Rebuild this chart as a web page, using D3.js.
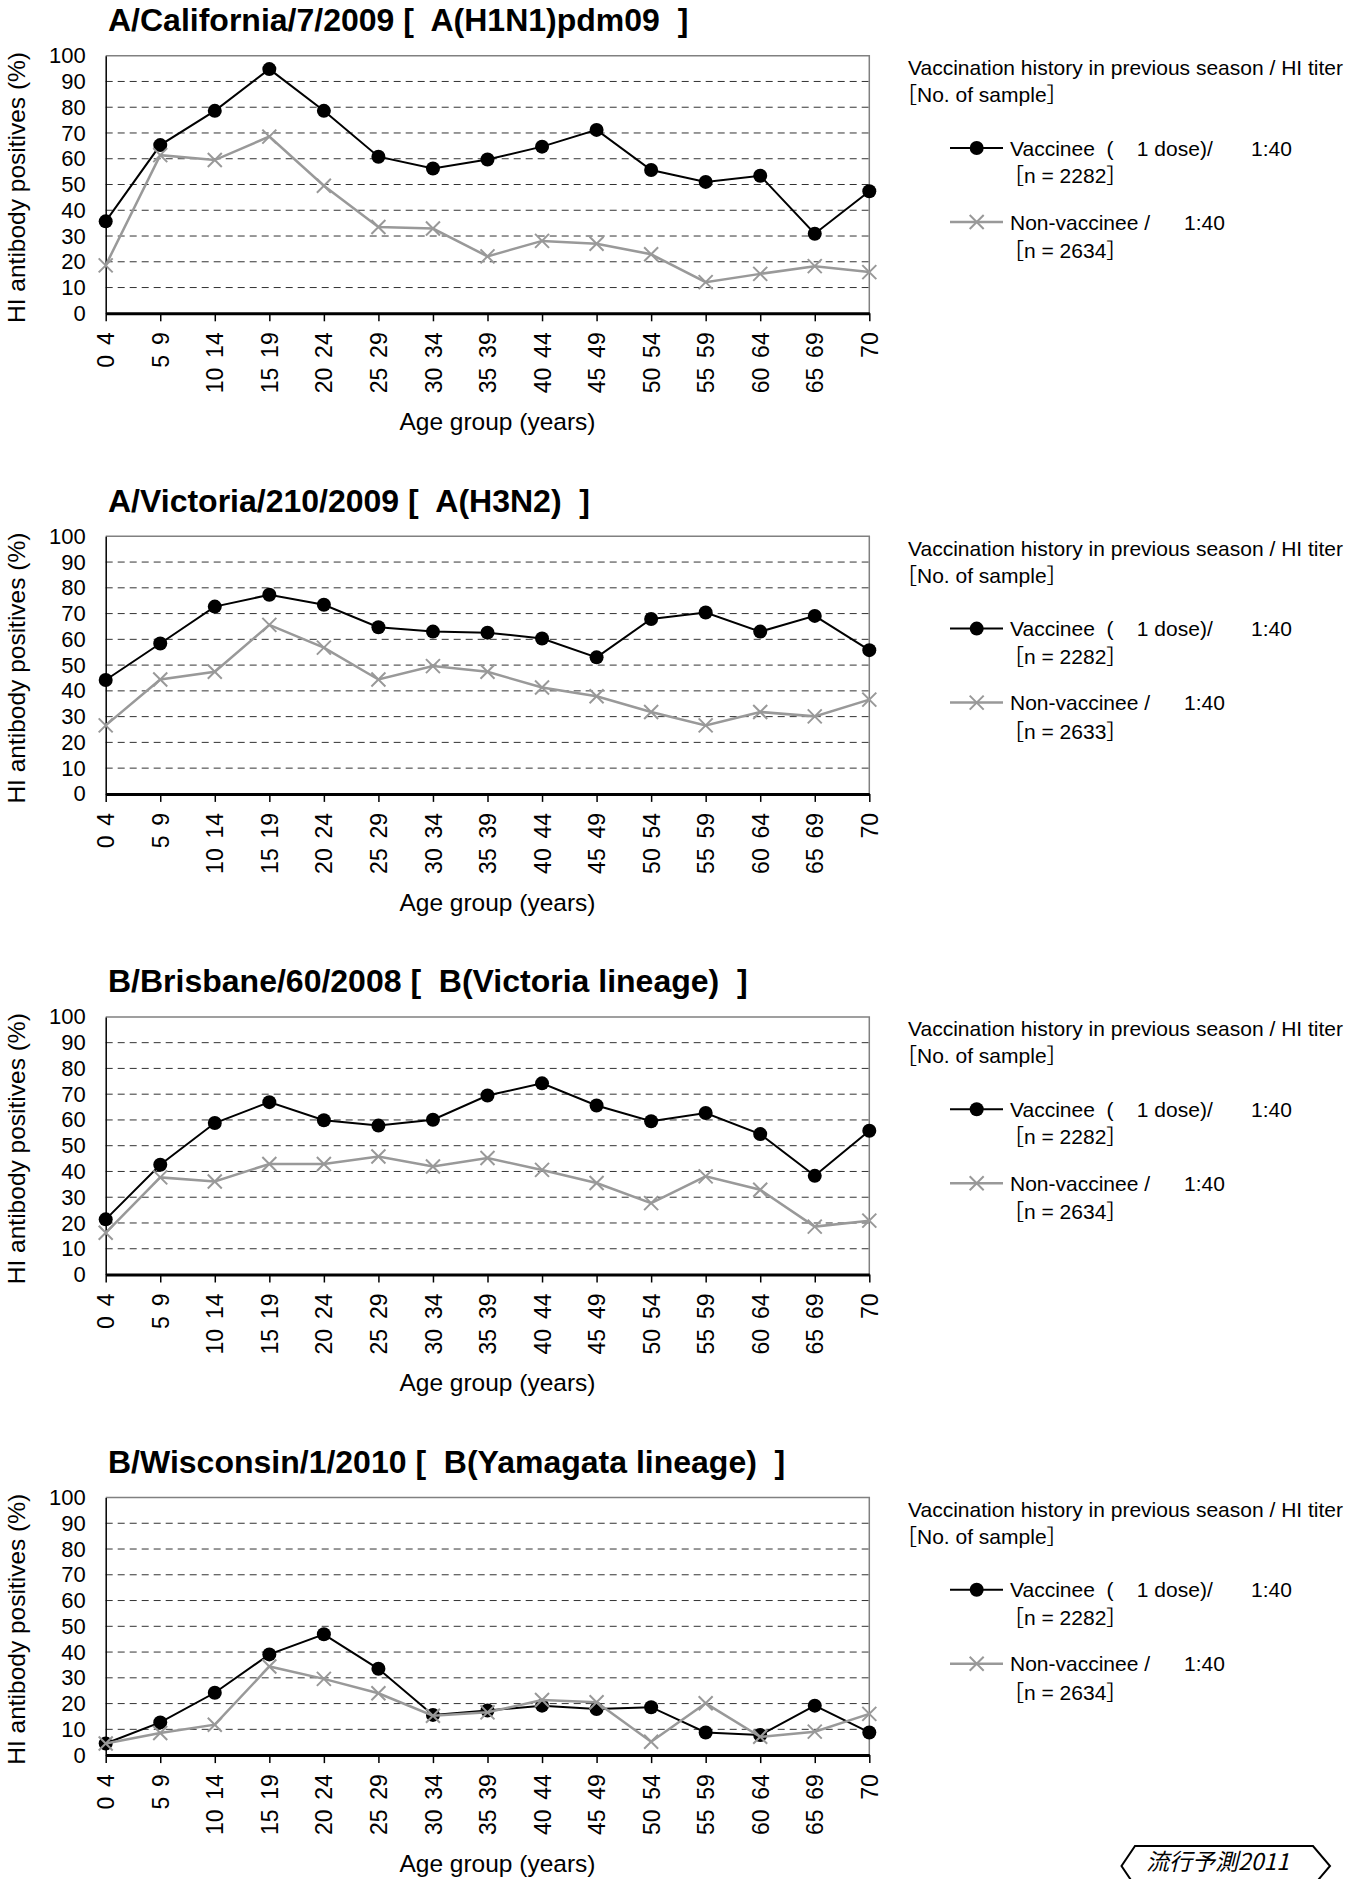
<!DOCTYPE html>
<html lang="en">
<head>
<meta charset="UTF-8">
<title>HI antibody positives by age group</title>
<script src="https://d3js.org/d3.v7.min.js"></script>
<style>
  body { margin: 0; background: #fff; }
  svg { display: block; font-family: "Liberation Sans", Arial, "Noto Sans CJK JP", sans-serif; }
  .title { font-weight: bold; font-size: 32px; white-space: pre; }
  .ytick text { font-size: 22px; fill: #000; }
  .xtick text { font-size: 23px; fill: #000; word-spacing: 0.15em; }
  .axis-title { font-size: 24.5px; }
  .legend text { font-size: 21px; white-space: pre; }
  .grid { stroke: #333; stroke-width: 1; stroke-dasharray: 7,5; }
  .footer { font-size: 23px; font-style: italic; font-family: "Noto Sans CJK JP", sans-serif; }
</style>
</head>
<body>
<svg width="1370" height="1879"></svg>
<script>
// age groups on the x axis
const ageGroups = ["0 4", "5 9", "10 14", "15 19", "20 24", "25 29", "30 34", "35 39",
                   "40 44", "45 49", "50 54", "55 59", "60 64", "65 69", "70"];
const yTicks = [0, 10, 20, 30, 40, 50, 60, 70, 80, 90, 100];

const strains = [
  "A/California/7/2009 [  A(H1N1)pdm09  ]",
  "A/Victoria/210/2009 [  A(H3N2)  ]",
  "B/Brisbane/60/2008 [  B(Victoria lineage)  ]",
  "B/Wisconsin/1/2010 [  B(Yamagata lineage)  ]"
];

// % HI antibody positives (>=1:40)
const vaccinee = [
  [35.7, 65.3, 78.6, 94.8, 78.6, 60.8, 56.2, 59.7, 64.7, 71.2, 55.6, 51.0, 53.4, 30.9, 47.4],
  [44.2, 58.4, 72.7, 77.3, 73.4, 64.7, 63.0, 62.6, 60.3, 53.0, 67.9, 70.4, 63.0, 69.1, 55.8],
  [21.4, 42.6, 58.8, 66.9, 59.9, 57.8, 60.1, 69.5, 74.2, 65.6, 59.5, 62.7, 54.5, 38.3, 55.8],
  [4.5, 12.7, 24.2, 39.1, 46.9, 33.5, 15.6, 17.3, 19.2, 17.9, 18.6, 8.8, 7.8, 19.2, 8.8]
];
const nonVaccinee = [
  [18.6, 61.4, 59.5, 68.6, 49.5, 33.5, 32.9, 22.1, 28.1, 27.0, 22.9, 12.1, 15.3, 18.3, 16.0],
  [26.6, 44.4, 47.4, 65.6, 56.8, 44.4, 49.6, 47.4, 41.3, 37.9, 31.8, 26.6, 31.8, 30.1, 36.6],
  [16.2, 37.7, 36.1, 42.9, 42.9, 45.8, 41.9, 45.2, 40.6, 35.5, 27.7, 38.1, 32.9, 18.6, 20.9],
  [4.5, 8.6, 11.8, 34.4, 29.6, 24.0, 15.3, 16.6, 21.4, 20.5, 5.2, 20.1, 7.1, 9.1, 16.0]
];
const vaccineeN = [2282, 2282, 2282, 2282];
const nonVaccineeN = [2634, 2633, 2634, 2634];

const svg = d3.select("svg");

const plot = { left: 105.7, right: 869.3, top: 55.7, bottom: 313.3 };
const period = 480.6;

const x = d3.scalePoint().domain(ageGroups).range([plot.left, plot.right]);
const y = d3.scaleLinear().domain([0, 100]).range([plot.bottom, plot.top]);

const line = d3.line()
  .x((d, i) => x(ageGroups[i]))
  .y(d => y(d));

strains.forEach((name, k) => {
  const g = svg.append("g").attr("transform", `translate(0,${k * period})`);

  g.append("text")
    .attr("class", "title")
    .attr("x", 108).attr("y", 31)
    .text(name);

  // dashed gridlines
  g.append("g").selectAll("line")
    .data(yTicks.filter(t => t > 0 && t < 100))
    .enter().append("line")
      .attr("class", "grid")
      .attr("x1", plot.left).attr("x2", plot.right)
      .attr("y1", d => y(d)).attr("y2", d => y(d));

  // plot frame (top + right grey)
  g.append("path")
    .attr("d", `M${plot.left},${y(100)}H${plot.right}V${y(0)}`)
    .attr("fill", "none").attr("stroke", "#808080").attr("stroke-width", 1.5);

  // y axis
  const ya = g.append("g").attr("class", "ytick")
    .attr("transform", `translate(${plot.left},0)`)
    .call(d3.axisLeft(y).tickValues(yTicks).tickSize(0).tickPadding(20));
  ya.select(".domain").attr("stroke", "#000").attr("stroke-width", 1.5);
  ya.selectAll("text").attr("font-family", null).attr("font-size", null);

  // x axis
  const xa = g.append("g").attr("class", "xtick")
    .attr("transform", `translate(0,${plot.bottom})`)
    .call(d3.axisBottom(x).tickSize(8).tickSizeOuter(0));
  xa.select(".domain").attr("stroke", "#000").attr("stroke-width", 3);
  xa.selectAll(".tick line").attr("stroke", "#000").attr("stroke-width", 1.5);
  xa.selectAll("text")
    .attr("font-family", null).attr("font-size", null)
    .attr("transform", "rotate(-90)")
    .attr("x", -19).attr("y", 0).attr("dy", "0.35em")
    .attr("text-anchor", "end");

  g.append("text")
    .attr("class", "axis-title")
    .attr("transform", `translate(25,${(plot.top + plot.bottom) / 2 + 3}) rotate(-90)`)
    .attr("text-anchor", "middle")
    .text("HI antibody positives (%)");

  g.append("text")
    .attr("class", "axis-title")
    .attr("x", (plot.left + plot.right) / 2 + 10).attr("y", 430)
    .attr("text-anchor", "middle")
    .text("Age group (years)");

  // vaccinee series
  g.append("path")
    .datum(vaccinee[k])
    .attr("d", line)
    .attr("fill", "none").attr("stroke", "#000").attr("stroke-width", 2);
  g.append("g").selectAll("circle")
    .data(vaccinee[k])
    .enter().append("circle")
      .attr("cx", (d, i) => x(ageGroups[i]))
      .attr("cy", d => y(d))
      .attr("r", 7)
      .attr("fill", "#000");

  // non-vaccinee series
  g.append("path")
    .datum(nonVaccinee[k])
    .attr("d", line)
    .attr("fill", "none").attr("stroke", "#999").attr("stroke-width", 2.5);
  g.append("g").selectAll("path")
    .data(nonVaccinee[k])
    .enter().append("path")
      .attr("d", (d, i) => {
        const cx = x(ageGroups[i]), cy = y(d), s = 7;
        return `M${cx - s},${cy - s}L${cx + s},${cy + s}M${cx - s},${cy + s}L${cx + s},${cy - s}`;
      })
      .attr("stroke", "#999").attr("stroke-width", 2);

  // legend
  const lg = g.append("g").attr("class", "legend");
  lg.append("text").attr("x", 908).attr("y", 75)
    .text("Vaccination history in previous season / HI titer");
  lg.append("text").attr("x", 896).attr("y", 102).text("［No. of sample］");

  lg.append("line").attr("x1", 950).attr("x2", 1003).attr("y1", 148).attr("y2", 148)
    .attr("stroke", "#000").attr("stroke-width", 2);
  lg.append("circle").attr("cx", 976.7).attr("cy", 148).attr("r", 7).attr("fill", "#000");
  lg.append("text").attr("x", 1010).attr("y", 155.5).text("Vaccinee  (    1 dose)/");
  lg.append("text").attr("x", 1251).attr("y", 155.5).text("1:40");
  lg.append("text").attr("x", 1003).attr("y", 183).text(`［n = ${vaccineeN[k]}］`);

  lg.append("line").attr("x1", 950).attr("x2", 1003).attr("y1", 222).attr("y2", 222)
    .attr("stroke", "#999").attr("stroke-width", 2.5);
  lg.append("path").attr("d", "M969.7,215L983.7,229M969.7,229L983.7,215")
    .attr("stroke", "#999").attr("stroke-width", 2);
  lg.append("text").attr("x", 1010).attr("y", 229.5).text("Non-vaccinee /");
  lg.append("text").attr("x", 1184).attr("y", 229.5).text("1:40");
  lg.append("text").attr("x", 1003).attr("y", 258).text(`［n = ${nonVaccineeN[k]}］`);
});

// footer badge
svg.append("path")
  .attr("d", "M1135,1846H1313L1330,1866L1313,1886H1135L1121.5,1866Z")
  .attr("fill", "none").attr("stroke", "#000").attr("stroke-width", 2);
svg.append("text")
  .attr("class", "footer")
  .attr("x", 1146).attr("y", 1870)
  .text("流行予測2011");
</script>
</body>
</html>
